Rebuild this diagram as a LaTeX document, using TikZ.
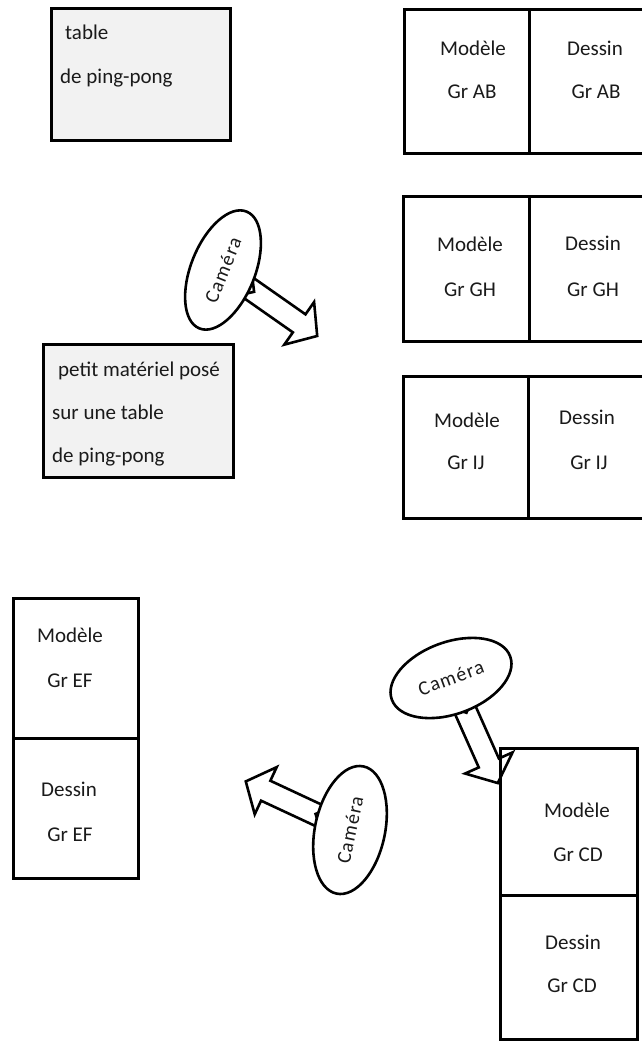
\documentclass[tikz,border=0pt]{standalone}
\usepackage{fontspec}
\setmainfont{Carlito}
\newfontfamily\camfont[LetterSpace=6]{Carlito}
\usetikzlibrary{shapes.geometric}
\definecolor{ink}{HTML}{1A1A1A}
\definecolor{paper}{HTML}{F2F2F2}

\begin{document}
\begin{tikzpicture}[x=1pt, y=-1pt, line join=miter,
  cell/.style={draw=black, line width=3pt, anchor=north west, inner sep=0pt, outer sep=0pt, fill=white},
  greycell/.style={cell, fill=paper},
  lab/.style={font=\fontsize{21}{25}\selectfont, text=ink, inner sep=0pt, anchor=base},
  note/.style={lab, anchor=base west},
  cam/.style={draw=black, line width=2.6pt, fill=white, ellipse, inner sep=0pt,
              font=\camfont\fontsize{20}{22}\selectfont, text=ink},
  camarrow/.pic={\draw[line width=2.6pt] (28,11) -- (93,11) -- (93,26) -- (115,0)
                 -- (93,-26) -- (93,-11) -- (28,-11) -- (38,0) -- cycle;}]
\useasboundingbox (0,0) rectangle (642,1041);
\clip (0,0) rectangle (642,1041);
% ---------------- ping-pong tables
\node[greycell, minimum width=179pt, minimum height=131pt] (tab) at (51,9) {};
\node[note] (tab1) at (65,40) {table};
\node[note] (tab2) at (60,83) {de ping-pong};
\node[greycell, minimum width=190pt, minimum height=133pt] (mat) at (43,344) {};
\foreach \n/\x/\y/\t in {mat1/58/376/petit matériel posé, mat2/52/419/sur une table, mat3/52/462/de ping-pong}
  \node[note] (\n) at (\x,\y) {\t};
% ---------------- groups, right column
\node[cell, minimum width=125pt, minimum height=143pt] (abm) at (404,10) {};
\node[cell, minimum width=114pt, minimum height=143pt] (abd) at (529,10) {};
\node[cell, minimum width=126pt, minimum height=145pt] (ghm) at (403,196) {};
\node[cell, minimum width=114pt, minimum height=145pt] (ghd) at (529,196) {};
\node[cell, minimum width=125pt, minimum height=142pt] (ijm) at (403,376) {};
\node[cell, minimum width=115pt, minimum height=142pt] (ijd) at (528,376) {};
% ---------------- groups, bottom
\node[cell, minimum width=125pt, minimum height=140pt] (efm) at (13,598) {};
\node[cell, minimum width=125pt, minimum height=140pt] (efd) at (13,738) {};
\node[cell, minimum width=137pt, minimum height=147pt] (cdm) at (500,748) {};
\node[cell, minimum width=137pt, minimum height=144pt] (cdd) at (500,895) {};
\foreach \n/\x/\y/\t in {
  abm1/473/56/Modèle, abm2/472/99/Gr AB, abd1/595/56/Dessin, abd2/596/99/Gr AB,
  ghm1/470/251/Modèle, ghm2/470/296/Gr GH, ghd1/593/250/Dessin, ghd2/593/296/Gr GH,
  ijm1/467/427/Modèle, ijm2/466/469/Gr IJ, ijd1/587/424/Dessin, ijd2/589/469/Gr IJ,
  efm1/70/642/Modèle, efm2/70/687/Gr EF, efd1/69/796/Dessin, efd2/70/841/Gr EF,
  cdm1/577/817/Modèle, cdm2/578/861/Gr CD, cdd1/573/949/Dessin, cdd2/572/992/Gr CD}
  \node[lab] (\n) at (\x,\y) {\t};
% ---------------- cameras
\coordinate (c1) at (223,270);
\pic[rotate=-35] at (c1) {camarrow};
\node[cam, rotate=68, minimum width=126pt, minimum height=64pt] (cam1) at (c1) {Caméra};
\coordinate (c2) at (350,830);
\pic[rotate=155] at (c2) {camarrow};
\node[cam, rotate=78, minimum width=130pt, minimum height=70pt] (cam2) at (c2) {Caméra};
\coordinate (c3) at (451,678);
\pic[rotate=-66] at (c3) {camarrow};
\node[cam, rotate=20, minimum width=126pt, minimum height=72pt] (cam3) at (c3) {Caméra};
\end{tikzpicture}
\end{document}
